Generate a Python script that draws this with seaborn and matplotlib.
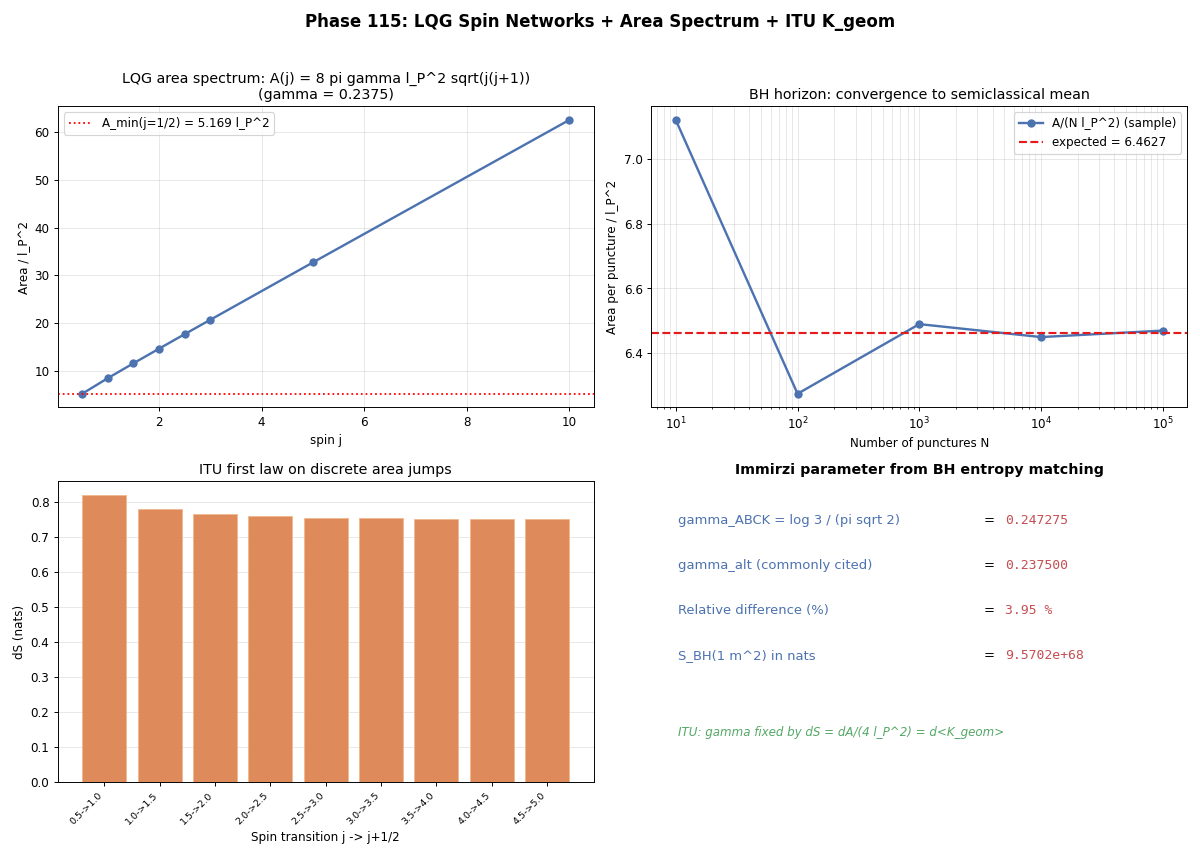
import matplotlib
matplotlib.use("Agg")
import matplotlib.pyplot as plt
import seaborn as sns
import pandas as pd
import numpy as np

# data
spin_j = [0.5, 1.0, 1.5, 2.0, 2.5, 3.0, 5.0, 10.0]
area_j = [5.169, 8.442, 11.55, 14.62, 17.67, 20.68, 32.70, 62.56]
a_min = 5.169

punctures = [10, 100, 1000, 10000, 100000]
area_per_punct = [7.12, 6.275, 6.49, 6.45, 6.47]
expected = 6.4627

transitions = ["0.5->1.0", "1.0->1.5", "1.5->2.0", "2.0->2.5", "2.5->3.0",
               "3.0->3.5", "3.5->4.0", "4.0->4.5", "4.5->5.0"]
dS = [0.818, 0.779, 0.765, 0.759, 0.755, 0.753, 0.752, 0.751, 0.750]

row_labels = ["gamma_ABCK = log 3 / (pi sqrt 2)", "gamma_alt (commonly cited)",
              "Relative difference (%)", "S_BH(1 m^2) in nats"]
row_values = ["0.247275", "0.237500", "3.95 %", "9.5702e+68"]

pal = sns.color_palette("deep")
blue, orange, green, red = pal[0], pal[1], pal[2], pal[3]

fig, axes = plt.subplots(2, 2, figsize=(14, 10), dpi=1200 / 14)
fig.suptitle("Phase 115: LQG Spin Networks + Area Spectrum + ITU K_geom",
             fontsize=14, fontweight="bold", y=0.985)

# top-left: area spectrum
ax = axes[0, 0]
df1 = pd.DataFrame({"j": spin_j, "A": area_j})
sns.lineplot(data=df1, x="j", y="A", marker="o", color=blue, lw=2,
             markersize=7, markeredgewidth=0, ax=ax)
ax.axhline(a_min, color="red", ls=":", lw=1.5,
           label="A_min(j=1/2) = 5.169 l_P^2")
ax.set_title("LQG area spectrum: A(j) = 8 pi gamma l_P^2 sqrt(j(j+1))\n(gamma = 0.2375)",
             fontsize=12)
ax.set_xlabel("spin j")
ax.set_ylabel("Area / l_P^2")
ax.legend(loc="upper left")
ax.grid(True, alpha=0.3)

# top-right: convergence
ax = axes[0, 1]
df2 = pd.DataFrame({"N": punctures, "a": area_per_punct})
sns.lineplot(data=df2, x="N", y="a", marker="o", color=blue, lw=2,
             markersize=7, markeredgewidth=0, ax=ax,
             label="A/(N l_P^2) (sample)")
ax.axhline(expected, color="#e41a1c", ls="--", lw=1.8,
           label="expected = 6.4627")
ax.set_xscale("log")
ax.set_title("BH horizon: convergence to semiclassical mean", fontsize=12)
ax.set_xlabel("Number of punctures N")
ax.set_ylabel("Area per puncture / l_P^2")
ax.legend(loc="upper right")
ax.grid(True, which="both", alpha=0.3)

# bottom-left: bars
ax = axes[1, 0]
df3 = pd.DataFrame({"t": transitions, "dS": dS})
sns.barplot(data=df3, x="t", y="dS", color=orange, saturation=1, alpha=0.95,
            edgecolor="#f0b890", linewidth=0.8, ax=ax, width=0.8)
ax.set_xlim(-0.84, len(transitions) - 1 + 0.84)
ax.set_title("ITU first law on discrete area jumps", fontsize=12)
ax.set_xlabel("Spin transition j -> j+1/2")
ax.set_ylabel("dS (nats)")
ax.tick_params(axis="x", labelsize=8, rotation=45)
for lab in ax.get_xticklabels():
    lab.set_ha("right")
ax.grid(True, axis="y", alpha=0.3)
ax.set_axisbelow(True)

# bottom-right: text panel
ax = axes[1, 1]
ax.axis("off")
ax.set_title("Immirzi parameter from BH entropy matching", fontsize=12,
             fontweight="bold")
ys = [0.87, 0.72, 0.57, 0.42]
for y, lab, val in zip(ys, row_labels, row_values):
    ax.text(0.05, y, lab, transform=ax.transAxes, fontsize=11, color=blue,
            va="center")
    ax.text(0.62, y, "=", transform=ax.transAxes, fontsize=11, color="black",
            va="center")
    ax.text(0.66, y, val, transform=ax.transAxes, fontsize=11, color=red,
            va="center", family="DejaVu Sans Mono")
ax.text(0.05, 0.165, "ITU: gamma fixed by dS = dA/(4 l_P^2) = d<K_geom>",
        transform=ax.transAxes, fontsize=10, color=green, style="italic",
        va="center")

plt.tight_layout(rect=[0, 0, 1, 0.967])
plt.savefig("out.png", dpi=1200 / 14)
